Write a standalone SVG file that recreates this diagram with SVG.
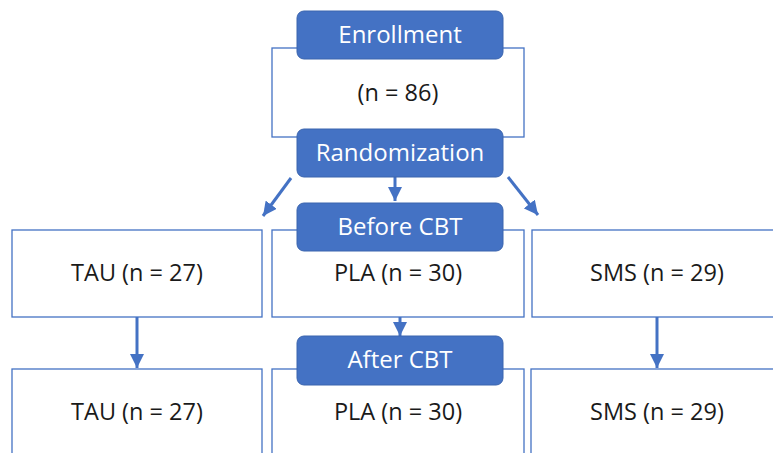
<svg xmlns="http://www.w3.org/2000/svg" width="773" height="453" viewBox="0 0 773 453">
<style>
.box{fill:#fff;stroke:#4472C4;stroke-width:1.3}
.hdr{fill:#4472C4;stroke:#3A64AE;stroke-width:1}
.ht{font-family:"Open Sans","Noto Sans",sans-serif;font-size:24px;fill:#fff;text-anchor:middle}
.bt{font-family:"Open Sans","Noto Sans",sans-serif;font-size:23.5px;fill:#1a1a1a;text-anchor:middle}
.arr{stroke:#4472C4;stroke-width:3;fill:none;marker-end:url(#ah)}
</style>
<defs>
<marker id="ah" markerUnits="userSpaceOnUse" markerWidth="14" markerHeight="14" refX="12" refY="6" orient="auto" viewBox="0 0 12 12">
<path d="M0,0 L12,6 L0,12 Z" fill="#4472C4"/>
</marker>
</defs>
<g id="enrollment-box"><rect class="box" x="272" y="48" width="252" height="89"/><text class="bt" x="398" y="101">(n = 86)</text></g>
<g id="tau1"><rect class="box" x="12" y="230" width="250" height="87"/><text class="bt" x="137" y="281">TAU (n = 27)</text></g>
<g id="pla1"><rect class="box" x="272" y="230" width="252" height="87"/><text class="bt" x="398" y="281">PLA (n = 30)</text></g>
<g id="sms1"><rect class="box" x="532" y="230" width="250" height="87"/><text class="bt" x="657" y="281">SMS (n = 29)</text></g>
<g id="tau2"><rect class="box" x="12" y="369" width="250" height="100"/><text class="bt" x="137" y="420">TAU (n = 27)</text></g>
<g id="pla2"><rect class="box" x="272" y="369" width="252" height="100"/><text class="bt" x="398" y="420">PLA (n = 30)</text></g>
<g id="sms2"><rect class="box" x="531" y="369" width="250" height="100"/><text class="bt" x="657" y="420">SMS (n = 29)</text></g>
<g id="connectors">
<line class="arr" x1="291" y1="178" x2="263" y2="216"/>
<line class="arr" x1="395" y1="177" x2="395" y2="201"/>
<line class="arr" x1="508" y1="177" x2="538" y2="215"/>
<line class="arr" x1="400" y1="317" x2="400" y2="336"/>
<line class="arr" x1="137" y1="317" x2="137" y2="368"/>
<line class="arr" x1="657" y1="317" x2="657" y2="368"/>
</g>
<g id="enrollment"><rect class="hdr" x="297" y="11" width="206" height="48" rx="7"/><text class="ht" x="400" y="43">Enrollment</text></g>
<g id="randomization"><rect class="hdr" x="297" y="129" width="206" height="48" rx="7"/><text class="ht" x="400" y="161">Randomization</text></g>
<g id="before"><rect class="hdr" x="297" y="203" width="206" height="48" rx="7"/><text class="ht" x="400" y="235">Before CBT</text></g>
<g id="after"><rect class="hdr" x="297" y="336" width="206" height="49" rx="7"/><text class="ht" x="400" y="368">After CBT</text></g>
</svg>
